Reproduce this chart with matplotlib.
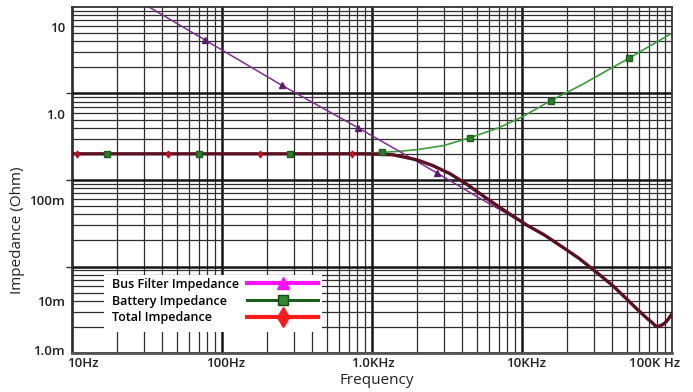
import numpy as np
import matplotlib
matplotlib.use("Agg")
import matplotlib.pyplot as plt
from matplotlib.lines import Line2D
from matplotlib.patches import Rectangle
from matplotlib.transforms import ScaledTranslation
from matplotlib.legend_handler import HandlerLine2D

plt.rcParams['font.family'] = ['Open Sans', 'DejaVu Sans']

# ---------------- data ----------------
freq_bus = [30, 77, 251, 807, 2712, 5000, 7943, 10800, 14000, 18750, 24000, 31600,
            40400, 52500, 58400, 68100, 73000, 77000, 80000, 83200, 88000, 92600, 100000]
z_bus = [18.6, 7.1, 2.12, 0.687, 0.206, 0.110, 0.0696, 0.0512, 0.0398, 0.0284, 0.0212,
         0.0145, 0.0102, 0.0066, 0.0055, 0.0043, 0.0039, 0.00355, 0.00345,
         0.00352, 0.0037, 0.00402, 0.00485]
bus_marker_idx = [1, 2, 3, 4]

freq_bat = [10, 17.1, 70.2, 284, 1000, 1164, 1500, 2000, 3000, 4500, 7000, 10000,
            15600, 25000, 35000, 51600, 70000, 100000]
z_bat = [0.343, 0.343, 0.343, 0.343, 0.352, 0.356, 0.366, 0.383, 0.427, 0.526,
         0.686, 0.915, 1.416, 2.15, 2.99, 4.36, 5.95, 8.51]
bat_marker_idx = [1, 2, 3, 5, 9, 12, 15]

freq_tot = [10, 10.8, 43.7, 178, 734, 1000, 1380, 1995, 2550, 3311, 4300, 5843, 7943,
            10800, 14000, 18750, 24000, 31600, 40400, 52500, 58400, 68100, 73000,
            77000, 80000, 83200, 88000, 92600, 100000]
z_tot = [0.343, 0.343, 0.343, 0.343, 0.343, 0.341, 0.334, 0.292, 0.250, 0.202, 0.152,
         0.104, 0.0725, 0.0512, 0.0398, 0.0284, 0.0212, 0.0145, 0.0102, 0.0066,
         0.0055, 0.0043, 0.0039, 0.00355, 0.00345, 0.00352, 0.0037, 0.00402, 0.00485]
tot_marker_idx = [1, 2, 3, 4]

x_tick_vals = [10, 100, 1000, 10000, 100000]
x_tick_labels = ["10Hz", "100Hz", "1.0KHz", "10KHz", "100K Hz"]
y_tick_vals = [10, 1.0, 0.1, 0.00688, 0.00185]
y_tick_labels = ["10", "1.0", "100m", "10m", "1.0m"]
series_names = ["Bus Filter Impedance", "Battery Impedance", "Total Impedance"]

# ---------------- figure ----------------
fig = plt.figure(figsize=(6.93, 3.92), dpi=100)
ax = fig.add_axes([72/693, 39/392, 600/693, 346/392])
ax.set_xscale('log')
ax.set_yscale('log')
g = 1.708
ax.set_xlim(10, 100000)
ax.set_ylim(g * 1e-3, g * 10)

# grid
for n in range(1, 5):
    for k in range(1, 10):
        ax.axvline(k * 10 ** n, color='#141414' if k == 1 else '#2e2e2e',
                   lw=1.8 if k == 1 else 0.9, zorder=0.5)
for n in range(-3, 1):
    for k in range(1, 10):
        ax.axhline(g * k * 10 ** n, color='#141414' if k == 1 else '#2e2e2e',
                   lw=1.8 if k == 1 else 0.9, zorder=0.5)

# curves
ax.plot(freq_bat, z_bat, color='#3c9c3c', lw=1.2, zorder=2)
ax.plot(freq_bus, z_bus, color='#7d2f8f', lw=1.1, zorder=2.5,
        marker='^', markevery=bus_marker_idx, ms=4, mfc='#5b1a6b', mec='#5b1a6b')
ax.plot(freq_tot, z_tot, color='#5a0f22', lw=2.4, zorder=3,
        marker='d', markevery=tot_marker_idx, ms=3.5, mfc='#c01020', mec='#c01020')
ax.plot([freq_bat[i] for i in bat_marker_idx], [z_bat[i] for i in bat_marker_idx],
        ls='none', marker='s', ms=4, mfc='#2a7f2a', mec='#1a5e1a', zorder=4)

# ticks
ax.set_xticks(x_tick_vals)
ax.set_xticklabels(x_tick_labels)
ax.xaxis.set_minor_locator(matplotlib.ticker.NullLocator())
ax.tick_params(axis='x', length=0, pad=3, labelsize=9.5, labelcolor='#222222')
offsets_px = [11, 4, 1, 4, -17]
for lab, off in zip(ax.get_xticklabels(), offsets_px):
    lab.set_fontweight('semibold')
    lab.set_transform(lab.get_transform() + ScaledTranslation(off / 100, 0, fig.dpi_scale_trans))

ax.set_yticks(y_tick_vals)
ax.set_yticklabels(y_tick_labels)
ax.set_yticks([g * 10 ** n for n in range(-2, 1)], minor=True)
ax.yaxis.set_minor_formatter(matplotlib.ticker.NullFormatter())
ax.tick_params(axis='y', which='major', length=0, pad=5, labelsize=9.5, labelcolor='#222222')
ax.tick_params(axis='y', which='minor', length=4, width=1, color='#333333')
for lab in ax.get_yticklabels():
    lab.set_fontweight('semibold')

for s in ax.spines.values():
    s.set_color('#333333')
    s.set_linewidth(1.3)
ax.spines['bottom'].set_color('#555555')
ax.spines['bottom'].set_linewidth(2)

# axis titles
fig.text(18/693, 1 - 230/392, "Impedance (Ohm)", rotation=90, ha='center', va='center',
         fontsize=11, color='#222222')
fig.text(377/693, 1 - 381/392, "Frequency", ha='center', va='center',
         fontsize=11, color='#222222')

# legend: white box, text column, handle column
def px_ax(xp, yp):
    return ((xp - 72) / 600, (353 - yp) / 346)

x0, y0 = px_ax(104, 332)
x1, y1 = px_ax(322, 275)
ax.add_patch(Rectangle((x0, y0), x1 - x0, y1 - y0, transform=ax.transAxes,
                       facecolor='white', edgecolor='none', zorder=4.5))

class OffsetMarkerHandler(HandlerLine2D):
    def get_xdata(self, legend, xdescent, ydescent, width, height, fontsize):
        return [-xdescent, -xdescent + width], [-xdescent + 0.22 * width]

handles = [
    Line2D([], [], color='#ff10ff', lw=3, marker='^', ms=8, mfc='#ff10ff', mec='#ff10ff'),
    Line2D([], [], color='#1a5e1a', lw=2.2, marker='s', ms=6.5, mfc='#2e8b2e', mec='#0f4a0f'),
    Line2D([], [], color='#ff1a1a', lw=3, marker='d', ms=10, mfc='#ff1a1a', mec='#ff1a1a'),
]
blank = [Line2D([], [], alpha=0) for _ in series_names]
prop = {'size': 9, 'weight': 'semibold'}
tx, ty = px_ax(112, 301)
leg1 = ax.legend(blank, series_names, loc='center left', bbox_to_anchor=(tx, ty),
                 frameon=False, handlelength=0, handletextpad=0, labelspacing=0.3,
                 borderpad=0, borderaxespad=0, prop=prop)
leg1.set_zorder(5)
ax.add_artist(leg1)
hx, hy = px_ax(247, 301)
leg2 = ax.legend(handles, [" ", " ", " "], loc='center left', bbox_to_anchor=(hx, hy),
                 frameon=False, handlelength=5.7, handletextpad=0, labelspacing=0.3,
                 borderpad=0, borderaxespad=0, prop=prop,
                 handler_map={Line2D: OffsetMarkerHandler()})
leg2.set_zorder(5)

fig.savefig('out.png', dpi=100, facecolor='white')
